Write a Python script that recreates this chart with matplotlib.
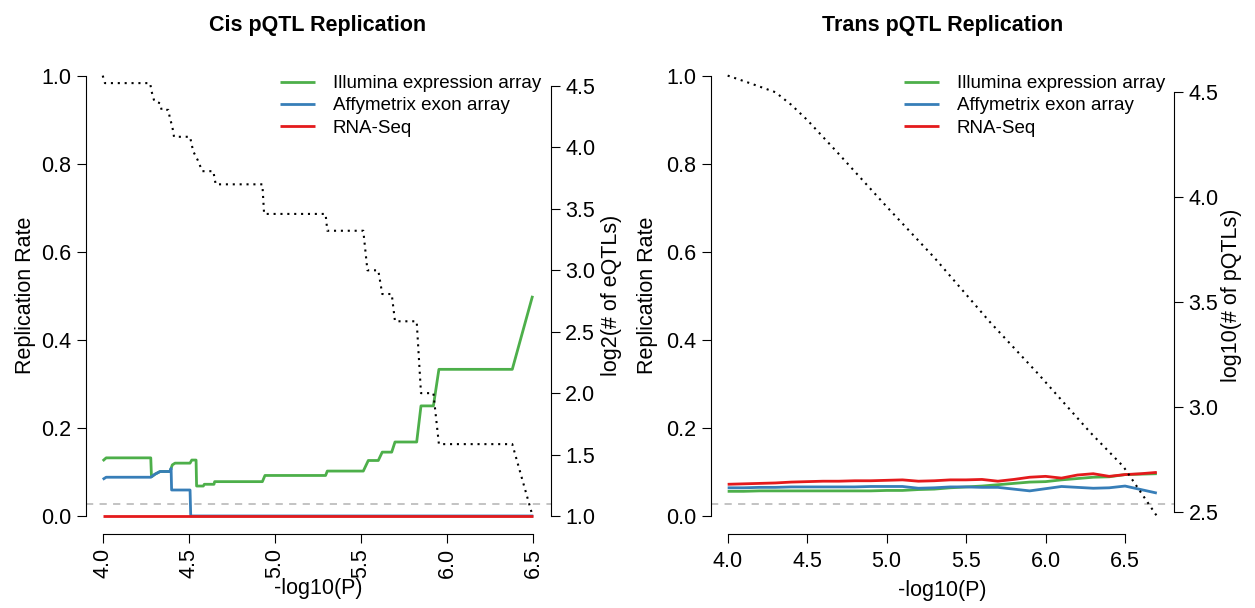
"""Cis / trans pQTL replication rates vs. -log10(P) threshold, two panels with twin axes."""

import matplotlib

matplotlib.use("Agg")
import matplotlib.pyplot as plt

plt.rcParams["font.family"] = ["Liberation Sans", "DejaVu Sans"]

GREEN = "#4DAF4A"
BLUE = "#377EB8"
RED = "#E41A1C"
SERIES_NAMES = ["Illumina expression array", "Affymetrix exon array", "RNA-Seq"]
CUTOFF = 0.027

# ---- Cis panel (step-like curves) ----
cis_illumina_x = [4.000, 4.020, 4.279, 4.283, 4.304, 4.333, 4.390, 4.397, 4.404, 4.420,
                  4.507, 4.517, 4.542, 4.545, 4.584, 4.590, 4.646, 4.650, 4.927, 4.942,
                  5.294, 5.304, 5.513, 5.542, 5.600, 5.623, 5.678, 5.697, 5.823, 5.848,
                  5.920, 5.952, 6.378, 6.496]
cis_illumina_y = [0.125, 0.132, 0.132, 0.089, 0.095, 0.101, 0.101, 0.108, 0.116, 0.120,
                  0.120, 0.127, 0.127, 0.068, 0.068, 0.072, 0.072, 0.078, 0.078, 0.092,
                  0.092, 0.102, 0.102, 0.126, 0.126, 0.145, 0.145, 0.168, 0.168, 0.250,
                  0.250, 0.333, 0.333, 0.500]

cis_affy_x = [4.000, 4.020, 4.279, 4.304, 4.333, 4.390, 4.397, 4.400, 4.507, 4.511, 6.500]
cis_affy_y = [0.083, 0.088, 0.088, 0.095, 0.101, 0.101, 0.108, 0.059, 0.059, 0.000, 0.000]

cis_rnaseq_x = [4.0, 6.5]
cis_rnaseq_y = [0.0, 0.0]

cis_count_x = [4.000, 4.013, 4.275, 4.284, 4.300, 4.333, 4.342, 4.381, 4.390, 4.404,
               4.414, 4.507, 4.517, 4.526, 4.551, 4.575, 4.578, 4.642, 4.656, 4.927,
               4.937, 5.294, 5.304, 5.513, 5.537, 5.600, 5.623, 5.678, 5.697, 5.823,
               5.848, 5.920, 5.952, 6.378, 6.496]
cis_count_log2 = [4.585, 4.524, 4.524, 4.455, 4.374, 4.361, 4.306, 4.306, 4.239, 4.170,
                  4.087, 4.087, 4.021, 3.967, 3.899, 3.818, 3.807, 3.807, 3.700, 3.700,
                  3.459, 3.459, 3.322, 3.322, 3.000, 3.000, 2.807, 2.807, 2.585, 2.585,
                  2.000, 2.000, 1.585, 1.585, 1.000]

# ---- Trans panel ----
trans_x = [4.0, 4.1, 4.2, 4.3, 4.4, 4.5, 4.6, 4.7, 4.8, 4.9, 5.0, 5.1, 5.2, 5.3,
           5.4, 5.5, 5.6, 5.7, 5.8, 5.9, 6.0, 6.1, 6.2, 6.3, 6.4, 6.5, 6.6, 6.7]
trans_illumina = [0.056, 0.056, 0.057, 0.057, 0.057, 0.057, 0.057, 0.057, 0.057, 0.057,
                  0.058, 0.058, 0.060, 0.061, 0.064, 0.066, 0.068, 0.071, 0.074, 0.077,
                  0.078, 0.082, 0.085, 0.088, 0.089, 0.094, 0.095, 0.096]
trans_affy = [0.064, 0.064, 0.065, 0.065, 0.066, 0.066, 0.066, 0.066, 0.066, 0.067,
              0.067, 0.067, 0.063, 0.064, 0.066, 0.066, 0.065, 0.065, 0.061, 0.057,
              0.062, 0.067, 0.065, 0.063, 0.064, 0.068, 0.060, 0.052]
trans_rnaseq = [0.072, 0.073, 0.074, 0.075, 0.077, 0.078, 0.079, 0.079, 0.080, 0.080,
                0.081, 0.082, 0.079, 0.080, 0.082, 0.082, 0.083, 0.079, 0.083, 0.088,
                0.090, 0.086, 0.093, 0.096, 0.090, 0.094, 0.096, 0.099]

trans_count_x = [4.00, 4.14, 4.30, 4.40, 4.50, 4.70, 5.00, 5.30, 5.65, 5.95, 6.28, 6.49, 6.70]
trans_count_log10 = [4.579, 4.543, 4.500, 4.440, 4.368, 4.205, 3.955, 3.712, 3.405, 3.161,
                     2.880, 2.716, 2.481]

x_ticks = [4.0, 4.5, 5.0, 5.5, 6.0, 6.5]
rate_ticks = [0.0, 0.2, 0.4, 0.6, 0.8, 1.0]
log2_ticks = [1.0, 1.5, 2.0, 2.5, 3.0, 3.5, 4.0, 4.5]
log10_ticks = [2.5, 3.0, 3.5, 4.0, 4.5]

TICK_SIZE = 15.5
LABEL_SIZE = 15.5


def r_like_limits(lo: float, hi: float) -> tuple[float, float]:
    # R's default axis style pads the data range by 4% on each side.
    pad = (hi - lo) * 0.04
    return lo - pad, hi + pad


def style_axis(ax) -> None:
    for side in ("top", "right"):
        ax.spines[side].set_visible(False)
    for side in ("left", "bottom"):
        ax.spines[side].set_linewidth(0.8)
    ax.tick_params(length=6.5, width=0.8, pad=4, labelsize=TICK_SIZE)


def draw_panel(ax, rate_series, count_x, count_y, count_ticks, count_label,
               title, x_range, count_range, rotate_xticks, label_x, right_label_x, xlabel_y, legend_anchor):
    for (xs, ys), color, name in zip(rate_series, [GREEN, BLUE, RED], SERIES_NAMES):
        ax.plot(xs, ys, color=color, lw=2.0, label=name, solid_capstyle="butt")
    ax.axhline(CUTOFF, color="#BEBEBE", lw=1.3, ls=(0, (4, 3.5)), zorder=0.5)

    ax.set_xlim(*r_like_limits(*x_range))
    ax.set_ylim(*r_like_limits(0.0, 1.0))
    style_axis(ax)
    ax.spines["left"].set_bounds(0.0, 1.0)
    ax.spines["bottom"].set_bounds(x_ticks[0], x_ticks[-1])
    ax.set_xticks(x_ticks)
    ax.set_xticklabels([f"{t:.1f}" for t in x_ticks], rotation=90 if rotate_xticks else 0)
    if not rotate_xticks:
        ax.tick_params(axis="x", pad=6)
    ax.set_yticks(rate_ticks)
    ax.set_yticklabels([f"{t:.1f}" for t in rate_ticks])

    ax.set_ylabel("Replication Rate", fontsize=LABEL_SIZE, va="center")
    ax.yaxis.set_label_coords(label_x, 0.5)
    ax.set_xlabel("-log10(P)", fontsize=LABEL_SIZE, va="center")
    ax.xaxis.set_label_coords(0.5, xlabel_y)
    ax.set_title(title, fontsize=15.5, fontweight="bold", y=1.069, va="center", pad=0)

    ax.legend(loc="upper right", bbox_to_anchor=legend_anchor, frameon=False, fontsize=13.5,
              handlelength=1.85, handletextpad=0.95, labelspacing=0.27, borderaxespad=0, borderpad=0)

    twin = ax.twinx()
    twin.plot(count_x, count_y, color="black", lw=1.5, ls=(0, (1, 2.3)))
    twin.set_ylim(*r_like_limits(*count_range))
    for side in ("top", "left", "bottom"):
        twin.spines[side].set_visible(False)
    twin.spines["right"].set_linewidth(0.8)
    twin.spines["right"].set_bounds(count_ticks[0], count_ticks[-1])
    twin.set_yticks(count_ticks)
    twin.set_yticklabels([f"{t:.1f}" for t in count_ticks])
    twin.tick_params(length=6.5, width=0.8, pad=4, labelsize=TICK_SIZE)
    twin.set_ylabel(count_label, fontsize=LABEL_SIZE, rotation=90, va="center")
    twin.yaxis.set_label_coords(right_label_x, 0.5)


def main() -> None:
    fig = plt.figure(figsize=(12.55, 6.08), dpi=100)
    ax_cis = fig.add_axes([85.5 / 1255, 74.4 / 608, 465 / 1255, 475.6 / 608])
    ax_trans = fig.add_axes([710.5 / 1255, 74.4 / 608, 463.5 / 1255, 475.6 / 608])

    draw_panel(
        ax_cis,
        [(cis_illumina_x, cis_illumina_y), (cis_affy_x, cis_affy_y), (cis_rnaseq_x, cis_rnaseq_y)],
        cis_count_x, cis_count_log2, log2_ticks, "log2(# of eQTLs)",
        "Cis pQTL Replication", (4.0, 6.5), (1.0, 4.585), True,
        -0.130, 1.132, -0.116, (0.980, 0.964),
    )
    draw_panel(
        ax_trans,
        [(trans_x, trans_illumina), (trans_x, trans_affy), (trans_x, trans_rnaseq)],
        trans_count_x, trans_count_log10, log10_ticks, "log10(# of pQTLs)",
        "Trans pQTL Replication", (4.0, 6.7), (2.481, 4.579), False,
        -0.137, 1.125, -0.119, (0.981, 0.964),
    )

    fig.savefig("out.png", dpi=100)
    plt.close(fig)


if __name__ == "__main__":
    main()
